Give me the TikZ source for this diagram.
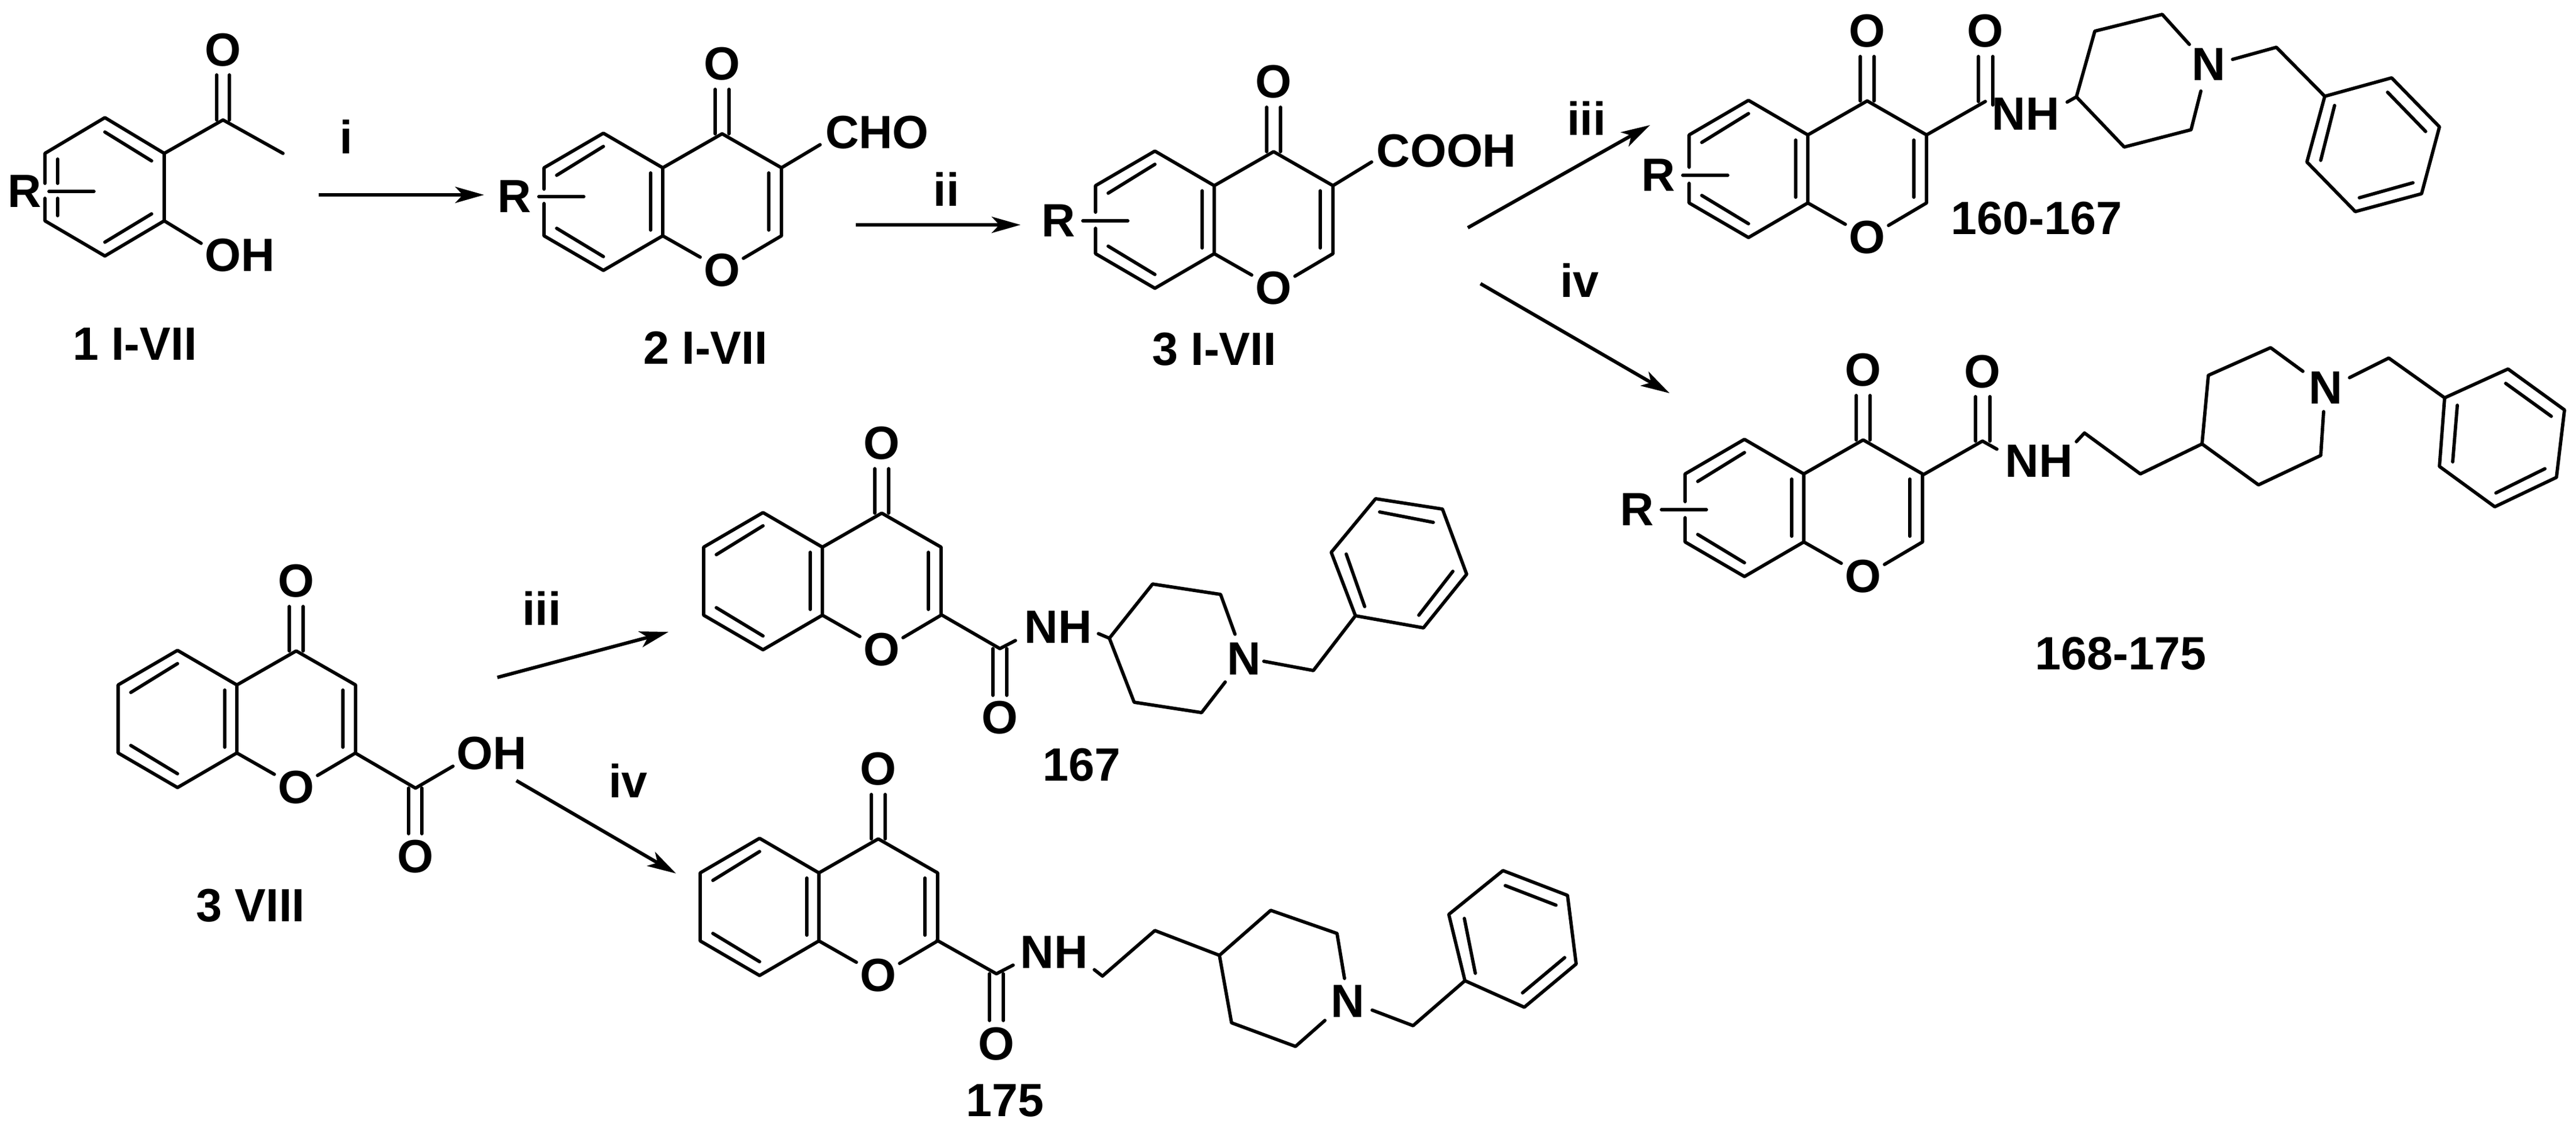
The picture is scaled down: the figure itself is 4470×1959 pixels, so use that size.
\documentclass[tikz,border=0pt]{standalone}
\usepackage{fontspec}
\setmainfont{Liberation Sans}
\usetikzlibrary{arrows.meta}
\tikzset{
 bond/.style={line width=0.058cm,line cap=round,line join=round,black},
 atom/.style={inner sep=0pt,outer sep=0pt,anchor=center,font=\fontsize{23}{23}\selectfont\bfseries,text=black},
 rxn/.style={line width=0.06cm,black,-{Stealth[length=0.5cm,width=0.28cm,inset=0.13cm]}}
}
% #1 name, #2,#3 upper ring-junction atom, #4,#5 where the left bond is interrupted
\newcommand{\chromone}[5]{%
 \begin{scope}[shift={(#2,#3)}]
  \draw[bond] (-206,#4) -- (-206,0) -- (-103,-60) -- (0,0) -- (0,118) -- (-103,178) -- (-206,118) -- (-206,#5);
  \draw[bond] (-184,13) -- (-103,-37);
  \draw[bond] (-184,105) -- (-103,154);
  \draw[bond] (-21,9) -- (-21,108);
  \draw[bond] (65,155) -- (0,118);
  \draw[bond] (0,0) -- (103,-59) -- (206,0) -- (206,118) -- (140,157);
  \draw[bond] (184,9) -- (184,108);
  \draw[bond] (91,-59) -- (91,-136);
  \draw[bond] (115,-59) -- (115,-136);
  \node[atom] (#1exo) at (103,-180) {O};
  \node[atom] (#1ring) at (103,178) {O};
 \end{scope}}
\newcommand{\Rsub}[3]{%
 \node[atom] (#1) at (#2,#3) {R};
 \draw[bond] (#1.center) ++(42,0) -- ++(78,0);}
\begin{document}
\begin{tikzpicture}[x=0.01cm,y=-0.01cm]
\useasboundingbox (0,0) rectangle (4470,1959);

% compound 1
\draw[bond] (78,318) -- (78,266) -- (182,204) -- (285,266) -- (285,383) -- (182,444) -- (78,383) -- (78,344);
\draw[bond] (100,276) -- (100,318);
\draw[bond] (100,344) -- (100,374);
\draw[bond] (182,229) -- (263,279);
\draw[bond] (263,371) -- (182,420);
\draw[bond] (285,266) -- (387,208) -- (491,266);
\draw[bond] (376,208) -- (376,130);
\draw[bond] (398,208) -- (398,130);
\draw[bond] (285,383) -- (349,422);
\node[atom] (oa) at (387,87) {O};
\node[atom] (oha) at (416,443) {OH};
\Rsub{ra}{43}{332}
\node[atom] (la) at (234,597) {1 I-VII};

% compound 2
\chromone{b}{1150}{291}{37}{62}
\Rsub{rb}{893}{341}
\draw[bond] (1356,291) -- (1423,251);
\node[atom] (chob) at (1522,230) {CHO};
\node[atom] (lb) at (1224,603) {2 I-VII};

% compound 3
\chromone{c}{2107}{322}{46}{74}
\Rsub{rc}{1837}{383}
\draw[bond] (2313,322) -- (2380,281);
\node[atom] (cooh) at (2510,262) {COOH};
\node[atom] (lc) at (2107,606) {3 I-VII};

% 160-167
\chromone{d}{3137}{234}{56}{84}
\Rsub{rd}{2878}{304}
\draw[bond] (3343,234) -- (3445,176);
\draw[bond] (3433,176) -- (3433,98);
\draw[bond] (3458,182) -- (3458,98);
\node[atom] (od) at (3445,54) {O};
\node[atom] (nhd) at (3515,198) {NH};
\draw[bond] (3587,177) -- (3603,168) -- (3635,54) -- (3752,25) -- (3799,77);
\draw[bond] (3603,168) -- (3686,255) -- (3802,225) -- (3819,158);
\node[atom] (nd) at (3833,112) {N};
\draw[bond] (3874,103) -- (3950,82) -- (4034,167);
\draw[bond] (4034,167) -- (4150,135) -- (4233,220) -- (4202,336) -- (4087,367) -- (4003,281) -- cycle;
\draw[bond] (4143,160) -- (4209,228);
\draw[bond] (4187,317) -- (4094,343);
\draw[bond] (4051,183) -- (4027,278);
\node[atom] (ld) at (3534,379) {160-167};

% 168-175
\chromone{e}{3130}{822}{48}{76}
\Rsub{re}{2841}{884}
\draw[bond] (3338,823) -- (3440,765) -- (3465,779);
\draw[bond] (3428,765) -- (3428,688);
\draw[bond] (3453,765) -- (3453,688);
\node[atom] (oe) at (3440,645) {O};
\node[atom] (nhe) at (3538,800) {NH};
\draw[bond] (3603,766) -- (3617,751) -- (3714,822) -- (3821,770);
\draw[bond] (3821,770) -- (3832,651) -- (3940,603) -- (3996,644);
\draw[bond] (3821,770) -- (3919,841) -- (4027,790) -- (4032,714);
\node[atom] (ne) at (4036,673) {N};
\draw[bond] (4077,655) -- (4145,621) -- (4242,690);
\draw[bond] (4242,690) -- (4352,640) -- (4450,711) -- (4436,828) -- (4329,879) -- (4233,809) -- cycle;
\draw[bond] (4348,665) -- (4427,722);
\draw[bond] (4416,813) -- (4331,855);
\draw[bond] (4264,703) -- (4256,801);
\node[atom] (le) at (3680,1134) {168-175};

% 3 VIII
\chromone{f}{411}{1188}{59}{59}
\draw[bond] (618,1307) -- (721,1367) -- (786,1329);
\draw[bond] (709,1367) -- (709,1446);
\draw[bond] (732,1367) -- (732,1446);
\node[atom] (of) at (721,1486) {O};
\node[atom] (ohf) at (853,1307) {OH};
\node[atom] (lf) at (435,1571) {3 VIII};

% 167
\chromone{g}{1427}{949}{59}{59}
\draw[bond] (1633,1066) -- (1735,1125) -- (1762,1111);
\draw[bond] (1723,1125) -- (1723,1206);
\draw[bond] (1747,1125) -- (1747,1206);
\node[atom] (og) at (1735,1245) {O};
\node[atom] (nhg) at (1836,1088) {NH};
\draw[bond] (1906,1099) -- (1925,1107) -- (2000,1013) -- (2118,1031) -- (2143,1100);
\draw[bond] (1925,1107) -- (1968,1218) -- (2085,1236) -- (2126,1183);
\node[atom] (ng) at (2159,1143) {N};
\draw[bond] (2193,1147) -- (2279,1163) -- (2352,1068);
\draw[bond] (2352,1068) -- (2310,958) -- (2387,865) -- (2503,883) -- (2545,996) -- (2470,1089) -- cycle;
\draw[bond] (2336,961) -- (2368,1052);
\draw[bond] (2394,888) -- (2487,906);
\draw[bond] (2521,991) -- (2462,1067);
\node[atom] (lg) at (1877,1327) {167};

% 175
\chromone{h}{1421}{1514}{59}{59}
\draw[bond] (1626,1631) -- (1729,1689) -- (1758,1674);
\draw[bond] (1717,1689) -- (1717,1770);
\draw[bond] (1741,1689) -- (1741,1770);
\node[atom] (oh) at (1729,1811) {O};
\node[atom] (nhh) at (1829,1652) {NH};
\draw[bond] (1899,1682) -- (1913,1693) -- (2004,1614) -- (2116,1657);
\draw[bond] (2116,1657) -- (2205,1579) -- (2320,1619) -- (2333,1697);
\draw[bond] (2116,1657) -- (2137,1774) -- (2248,1815) -- (2299,1770);
\node[atom] (nh) at (2339,1737) {N};
\draw[bond] (2381,1752) -- (2452,1779) -- (2542,1701);
\draw[bond] (2542,1701) -- (2514,1586) -- (2608,1510) -- (2720,1553) -- (2735,1672) -- (2645,1747) -- cycle;
\draw[bond] (2541,1593) -- (2560,1688);
\draw[bond] (2612,1536) -- (2700,1570);
\draw[bond] (2715,1661) -- (2642,1722);
\node[atom] (lh) at (1744,1909) {175};

% reaction arrows
\coordinate (a1s) at (553,338);  \coordinate (a1e) at (840,338);
\coordinate (a2s) at (1485,390); \coordinate (a2e) at (1771,390);
\coordinate (a3s) at (2547,395); \coordinate (a3e) at (2863,217);
\coordinate (a4s) at (2569,492); \coordinate (a4e) at (2897,682);
\coordinate (a5s) at (863,1175); \coordinate (a5e) at (1160,1096);
\coordinate (a6s) at (896,1354); \coordinate (a6e) at (1173,1515);
\draw[rxn] (a1s) -- (a1e);
\draw[rxn] (a2s) -- (a2e);
\draw[rxn] (a3s) -- (a3e);
\draw[rxn] (a4s) -- (a4e);
\draw[rxn] (a5s) -- (a5e);
\draw[rxn] (a6s) -- (a6e);
\node[atom] (ti) at (601,237) {i};
\node[atom] (tii) at (1642,328) {ii};
\node[atom] (tiii) at (2753,205) {iii};
\node[atom] (tiv) at (2741,486) {iv};
\node[atom] (tiiib) at (940,1055) {iii};
\node[atom] (tivb) at (1090,1354) {iv};
\end{tikzpicture}
\end{document}
